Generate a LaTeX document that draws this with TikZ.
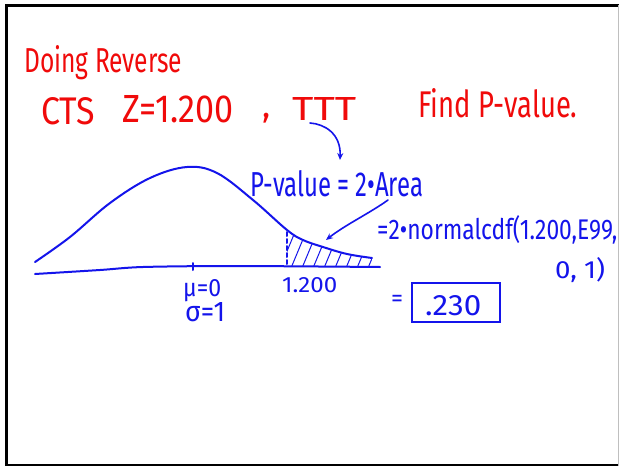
\documentclass[tikz,border=0pt]{standalone}
\usepackage{fontspec}
\setmainfont{Fira Sans}
\usetikzlibrary{arrows.meta}
\definecolor{pen}{RGB}{20,20,235}
\definecolor{ink}{RGB}{240,10,10}
\newcommand{\hw}[3]{\resizebox{#1pt}{#2pt}{#3}}
\begin{document}
\begin{tikzpicture}[x=1pt,y=-1pt,
  txt/.style={inner sep=0pt, anchor=base west},
  redtxt/.style={txt, text=ink},
  bluetxt/.style={txt, text=pen},
  curve/.style={draw=pen, line width=2pt, line cap=round, line join=round},
  pointer/.style={curve, line width=1.6pt, -{Stealth[length=7pt,width=6pt]}}]
\useasboundingbox (0,0) rectangle (619,466);
\fill[white] (0,0) rectangle (619,466);
% frame
\draw[line width=3pt] (6,466) -- (6,5.5) -- (619,5.5);
\draw[line width=2pt] (6,465) -- (619,465);
\draw[black!25, line width=1pt] (618,5) -- (618,466);

% red header text
\node[redtxt] (title) at (24,72) {\hw{158}{27}{Doing Reverse}};
\node[redtxt] (cts) at (41,124) {\hw{54}{27}{CTS}};
\node[redtxt] (zval) at (122,122) {\hw{111}{27}{Z=1.200}};
\node[redtxt, font=\fontsize{34}{34}\selectfont] (comma) at (262,117) {,};
\node[redtxt] (ttt) at (292,120) {\hw{64}{23}{TTT}};
\node[redtxt] (find) at (418,117) {\hw{159}{29}{Find P-value.}};

% blue formula text
\node[bluetxt] (pv) at (250,196) {\hw{173}{26}{P-value = 2\textbullet Area}};
\node[bluetxt] (ncdf) at (377,239) {\hw{240}{24}{=2\textbullet normalcdf(1.200,E99,}};
\node[bluetxt] (args) at (555,278) {\hw{50}{21}{0, 1)}};
\node[text=pen, inner sep=0pt, font=\fontsize{24}{24}\selectfont] (eq) at (397,301) {=};
\node[draw=pen, line width=1.8pt, minimum width=88pt, minimum height=39pt, inner sep=0pt] (ans) at (456,302.5) {};
\node[bluetxt] (ansval) at (425,315) {\hw{56}{20}{.230}};

% axis labels
\node[bluetxt] (mu) at (183,296) {\hw{38}{17}{μ=0}};
\node[bluetxt] (sigma) at (185,321) {\hw{40}{19}{σ=1}};
\node[bluetxt] (zlab) at (282,292) {\hw{55}{15}{1.200}};

% hatching of the tail
\begin{scope}
\clip plot[smooth, tension=0.6] coordinates {(287,230) (303,240) (323,247) (347,254) (372,258)} -- (372,266) -- (287,266) -- cycle;
\foreach \x in {300,311,...,400} \draw[pen, line width=1pt] (\x,220) -- (\x-20,268);
\end{scope}

% bell curve
\draw[curve] plot[smooth, tension=0.6] coordinates {(35,262) (70,237) (110,203) (150,178) (187,167) (217,173) (253,200) (287,230) (303,240) (323,247) (347,254) (372,258)};
% axis
\draw[curve] plot[smooth, tension=0.5] coordinates {(35,274) (100,270) (143,267) (233,266) (380,267)};
\draw[curve] (193,263) -- (193,270);
% dashed cut
\draw[curve, dash pattern=on 4pt off 3pt] (287,232) -- (287,264);

% arrows
\coordinate (t1) at (310,123);
\coordinate (t2) at (340,160);
\draw[pointer] (t1) .. controls (325,124) and (341,134) .. (t2);
\coordinate (a1) at (388,200);
\coordinate (a2) at (326,240);
\draw[pointer] (a1) .. controls (370,213) and (345,225) .. (a2);
\end{tikzpicture}
\end{document}
